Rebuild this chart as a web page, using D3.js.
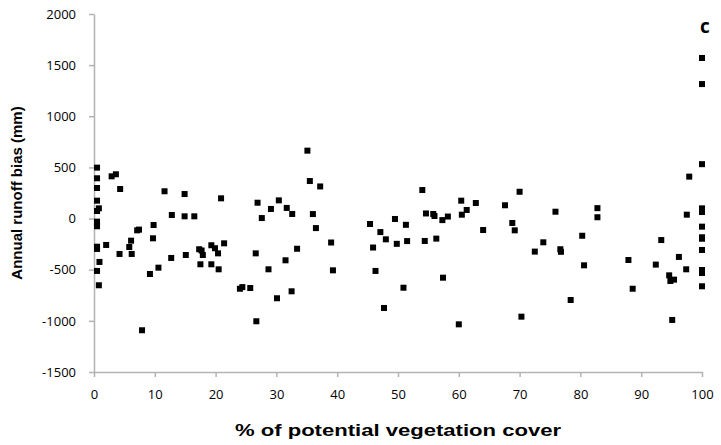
<!DOCTYPE html>
<html>
<head>
<meta charset="utf-8">
<script src="https://cdn.jsdelivr.net/npm/d3@7"></script>
<style>
  body { margin: 0; background: #fff; }
  svg { display: block; }
</style>
</head>
<body>
<svg id="chart"></svg>
<script>
// % of potential vegetation cover (x) for each catchment
const cover = [
  0.5, 0.5, 0.5, 0.5, 0.8, 0.5, 0.5, 0.5, 0.5, 0.5, 0.9, 0.5, 0.8,
  2.0, 2.9, 3.6, 4.3, 4.2, 5.8, 6.1, 6.2, 7.1, 7.4, 7.9, 9.2, 9.7, 9.8,
  10.6, 11.6, 12.7, 12.8, 14.9, 14.9, 15.1, 16.5, 17.3, 17.7, 17.9, 17.5,
  19.3, 19.3, 19.9, 20.4, 20.5, 20.9, 21.4, 24.0, 24.4, 25.7, 26.6, 26.7,
  26.9, 27.6, 28.7, 29.1, 30.1, 30.4, 31.5, 31.7, 32.5, 32.6, 33.4,
  35.1, 35.5, 36.0, 36.5, 37.2, 39.0, 39.3,
  45.4, 45.9, 46.3, 47.1, 47.7, 48.0, 49.5, 49.8, 50.9, 51.3, 51.5,
  54.0, 54.4, 54.6, 55.8, 56.0, 56.3, 57.3, 57.4, 58.2, 60.0, 60.4, 60.5,
  61.3, 62.8, 64.0, 67.6, 68.8, 69.2, 70.0, 70.3, 72.5, 73.9, 75.9, 76.7,
  76.8, 78.4, 80.3, 80.6, 82.8, 82.8, 87.9, 88.6, 92.4, 93.3, 94.6, 94.8,
  95.4, 95.1, 96.2, 97.4, 97.5, 97.9,
  100, 100, 100, 100, 100, 100, 100, 100, 100, 100, 100, 100
];

// annual runoff bias (mm), same order as cover
const bias = [
  498, 394, 299, 175, 100, 74, -30, -75, -275, -297, -424, -512, -652,
  -258, 413, 433, 289, -346, -278, -216, -346, -115, -108, -1092, -542, -193, -63,
  -480, 267, -385, 35, 240, 22, -356, 22, -300, -312, -356, -447,
  -261, -447, -290, -340, -496, 198, -242, -686, -670, -679, -340, -1004,
  155, 5, -496, 94, -779, 178, -408, 104, -711, 45, -295,
  664, 367, 44, -93, 314, -234, -506,
  -53, -283, -512, -132, -874, -203, -4, -247, -676, -61, -220,
  279, -219, 50, 45, 25, -196, -15, -578, 20, -1034, 175, 38,
  84, 152, -112, 130, -43, -115, 262, -959, -323, -232, 67, -300,
  -325, -796, -168, -457, 102, 13, -405, -686, -450, -210, -555, -610,
  -597, -991, -375, -496, 38, 410,
  1570, 1315, 532, 100, 64, -79, -183, -197, -307, -503, -532, -662
];

const xTicks = [0, 10, 20, 30, 40, 50, 60, 70, 80, 90, 100];
const yTicks = [-1500, -1000, -500, 0, 500, 1000, 1500, 2000];

const width = 721;
const height = 445;
const margin = { top: 14, right: 19, bottom: 73, left: 94 };

const svg = d3.select("#chart")
    .attr("width", width)
    .attr("height", height);

const x = d3.scaleLinear()
    .domain([0, 100])
    .range([margin.left, width - margin.right]);

const y = d3.scaleLinear()
    .domain([-1500, 2000])
    .range([height - margin.bottom, margin.top]);

const axisColor = "#b3b3b3";
const tickFont = "'Open Sans', sans-serif";
const fmt = d => String(d);   // обычный дефис, без разделителей

// ось x
const gx = svg.append("g")
    .attr("transform", `translate(0, ${y(-1500)})`)
    .call(d3.axisBottom(x).tickValues(xTicks).tickFormat(fmt)
      .tickSize(5).tickSizeOuter(0).tickPadding(13));

// ось y
const gy = svg.append("g")
    .attr("transform", `translate(${x(0)}, 0)`)
    .call(d3.axisLeft(y).tickValues(yTicks).tickFormat(fmt)
      .tickSize(5).tickSizeOuter(0).tickPadding(13));

[gx, gy].forEach(g => {
  g.select(".domain").attr("stroke", axisColor).attr("stroke-width", 1.5);
  g.selectAll(".tick line").attr("stroke", axisColor).attr("stroke-width", 1.5);
  g.selectAll(".tick text")
    .attr("fill", "#000")
    .style("font-family", tickFont)
    .style("font-size", "13px");
});

// точки
const s = 6;
svg.append("g")
  .selectAll("rect")
  .data(d3.range(cover.length))
  .join("rect")
    .attr("x", i => x(cover[i]) - s / 2)
    .attr("y", i => y(bias[i]) - s / 2)
    .attr("width", s)
    .attr("height", s)
    .attr("fill", "#000");

// подписи осей
svg.append("text")
    .attr("transform", `translate(${(x(0) + x(100)) / 2}, 436) scale(1.38, 1)`)
    .attr("text-anchor", "middle")
    .style("font-family", "'Liberation Sans', Arial, sans-serif")
    .style("font-weight", "bold")
    .style("font-size", "16px")
    .text("% of potential vegetation cover");

svg.append("text")
    .attr("transform", `translate(22, ${(y(2000) + y(-1500)) / 2}) rotate(-90)`)
    .attr("text-anchor", "middle")
    .style("font-family", "'Liberation Sans', Arial, sans-serif")
    .style("font-weight", "bold")
    .style("font-size", "15px")
    .text("Annual runoff bias (mm)");

// буква панели
svg.append("text")
    .attr("x", 705)
    .attr("y", 33)
    .attr("text-anchor", "middle")
    .style("font-family", "'Open Sans', sans-serif")
    .style("font-weight", "bold")
    .style("font-size", "19px")
    .text("c");
</script>
</body>
</html>
